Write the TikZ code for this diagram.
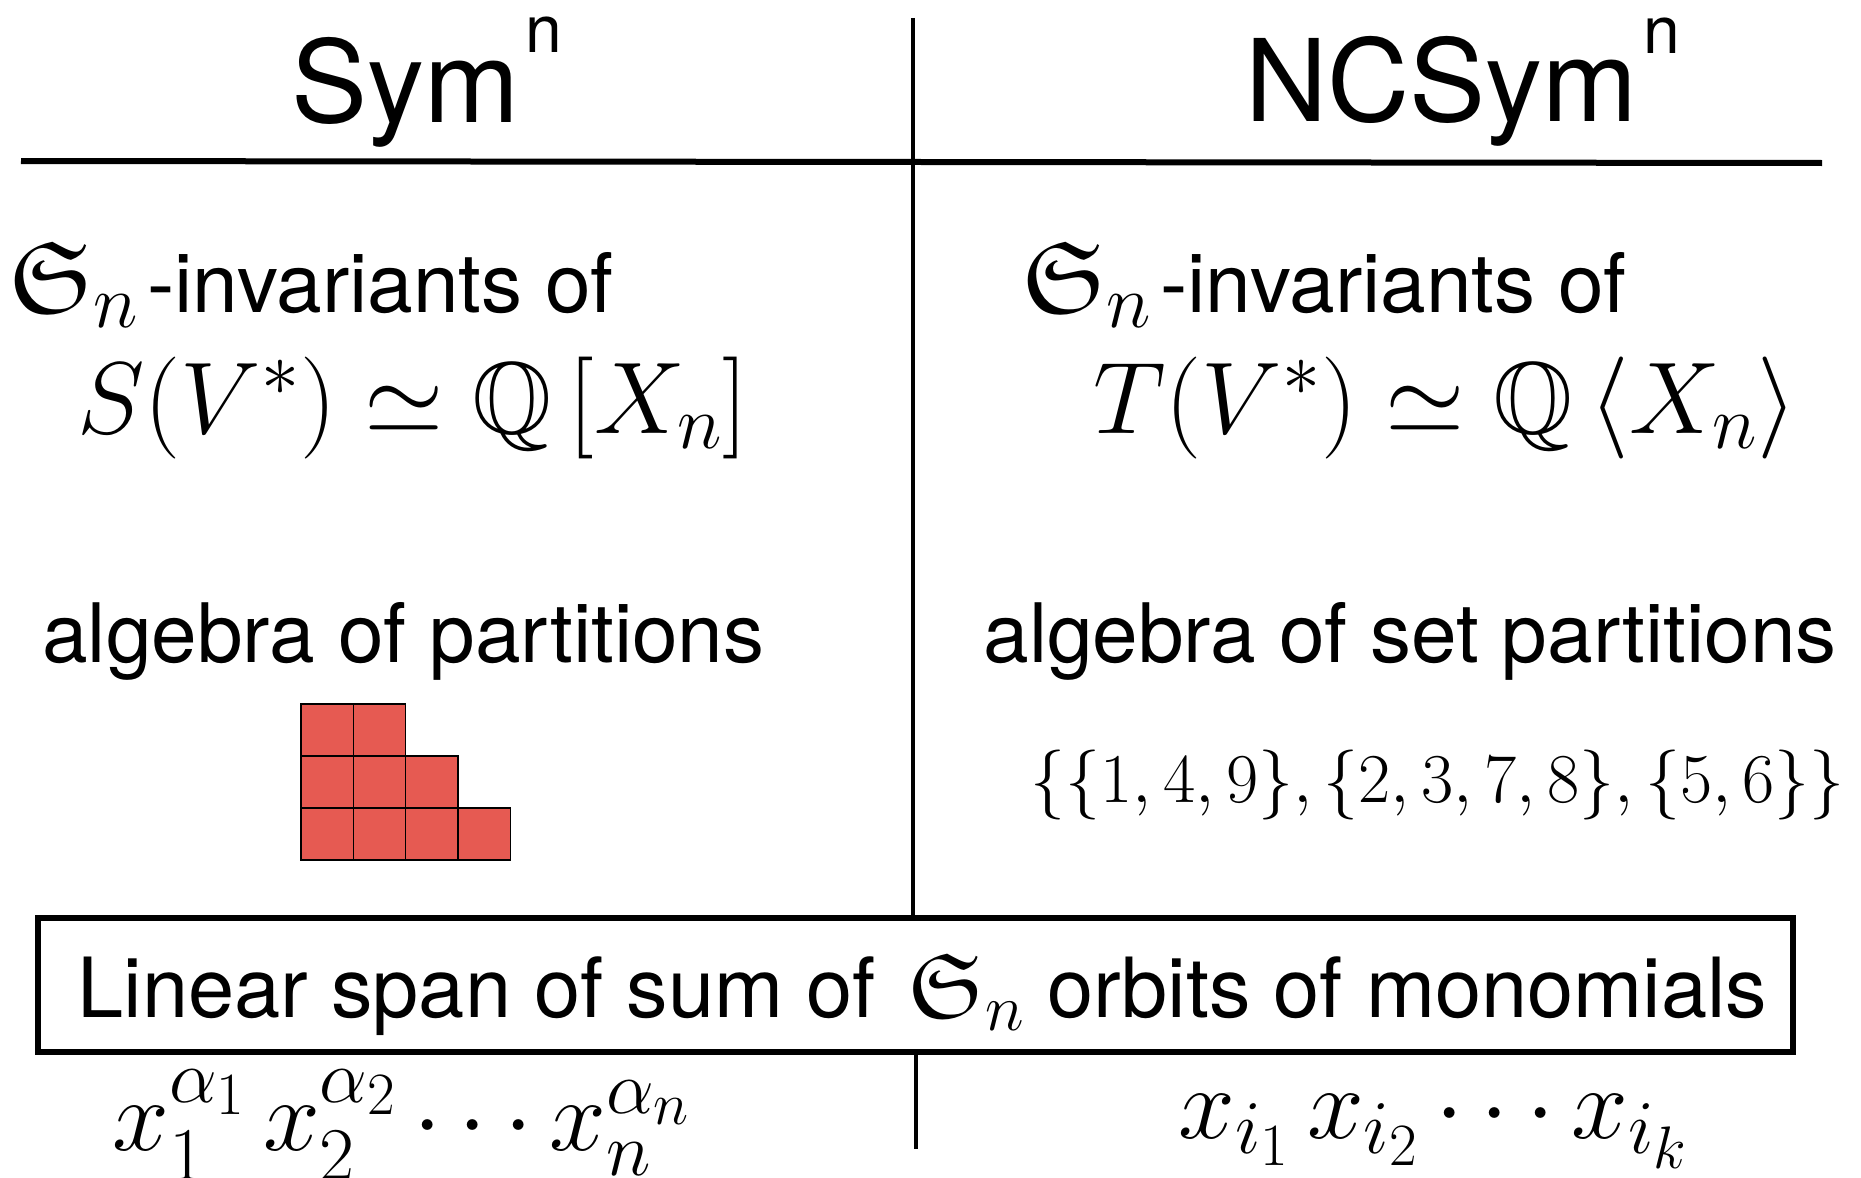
\RequirePackage{fix-cm}
\documentclass[tikz,border=0pt]{standalone}
\usepackage{amssymb}
\usepackage{fontspec}
\newfontfamily\helv{TeX Gyre Heros}
\usetikzlibrary{positioning}
\DeclareMathSizes{51}{51}{38}{30}
\DeclareMathSizes{46}{46}{33}{25}
\definecolor{youngred}{HTML}{E65A52}
\newcommand{\bigmath}{\fontsize{51pt}{54pt}\selectfont}
\newcommand{\boxmath}{\fontsize{46pt}{50pt}\selectfont}
\tikzset{
  headtext/.style={anchor=base west, inner sep=0pt,
    font=\helv\fontsize{57pt}{60pt}\selectfont},
  bodytext/.style={anchor=base west, inner sep=0pt,
    font=\helv\fontsize{41pt}{44pt}\selectfont},
  mathtext/.style={anchor=base west, inner sep=0pt, font=\bigmath},
  settext/.style={anchor=base west, inner sep=0pt,
    font=\fontsize{35pt}{38pt}\selectfont},
  cellbox/.style={draw=black, fill=youngred, line width=0.6pt},
  spanbox/.style={rectangle, draw=black, line width=3pt, inner sep=0pt,
    minimum width=877.5pt, minimum height=67pt,
    text height=32pt, text depth=0pt,
    font=\helv\fontsize{41.5pt}{44pt}\selectfont},
  rulebar/.style={line width=3pt},
  divider/.style={line width=2.2pt},
}
\begin{document}
\begin{tikzpicture}[x=0.5pt, y=-0.5pt]
  \useasboundingbox (0,0) rectangle (1861,1177);

  % Headings
  \node[headtext] (sym) at (291,122) {Sym\hspace{3pt}\raisebox{35pt}{\fontsize{33pt}{36pt}\selectfont n}};
  \node[headtext] (ncsym) at (1245,121) {NCSym\hspace{3pt}\raisebox{34pt}{\fontsize{33pt}{36pt}\selectfont n}};

  % Rules
  \coordinate (hleft) at (21,161);
  \coordinate (hright) at (1822,163);
  \draw[rulebar] (hleft) -- (hright);

  % Commutative side
  \node[bodytext] (invleft) at (9,312) {{\bigmath$\mathfrak{S}_n$}\hspace{4pt}-invariants of};
  \node[mathtext] (symalg) at (77,433) {$S(V^*)\simeq\mathbb{Q}\,[X_n]$};
  \node[bodytext] (algleft) at (42,662) {algebra of partitions};
  \foreach \r/\cnt in {0/2,1/3,2/4}
    \foreach \c in {1,...,\cnt}
      \draw[cellbox] ({301+(\c-1)*52.3},{704+\r*52}) rectangle +(52.3,52);

  % Noncommutative side
  \node[bodytext] (invright) at (1022,312) {{\bigmath$\mathfrak{S}_n$}\hspace{4pt}-invariants of};
  \node[mathtext] (tensalg) at (1093,433) {$T(V^*)\simeq\mathbb{Q}\,\langle X_n\rangle$};
  \node[bodytext] (algright) at (983,662) {algebra of set partitions};
  \node[settext] (setpart) at (1030,802) {$\{\{1,4,9\},\{2,3,7,8\},\{5,6\}\}$};

  % Common basis
  \node[spanbox] (span) at (915.5,985) {\hspace{7pt}Linear span of sum of \hspace{5pt}{\boxmath$\mathfrak{S}_n$} orbits of monomials};
  \node[mathtext] (monoleft) at (112,1150) {$x_1^{\alpha_1}\,x_2^{\alpha_2}\cdots x_n^{\alpha_n}$};
  \node[mathtext] (monoright) at (1178,1138) {$x_{i_1}\,x_{i_2}\cdots x_{i_k}$};

  \coordinate (vtop) at (913,18);
  \coordinate (vbot) at (916,1149);
  \draw[divider] (vtop) -- (vtop |- span.north);
  \draw[divider] (vbot |- span.south) -- (vbot);
\end{tikzpicture}
\end{document}
